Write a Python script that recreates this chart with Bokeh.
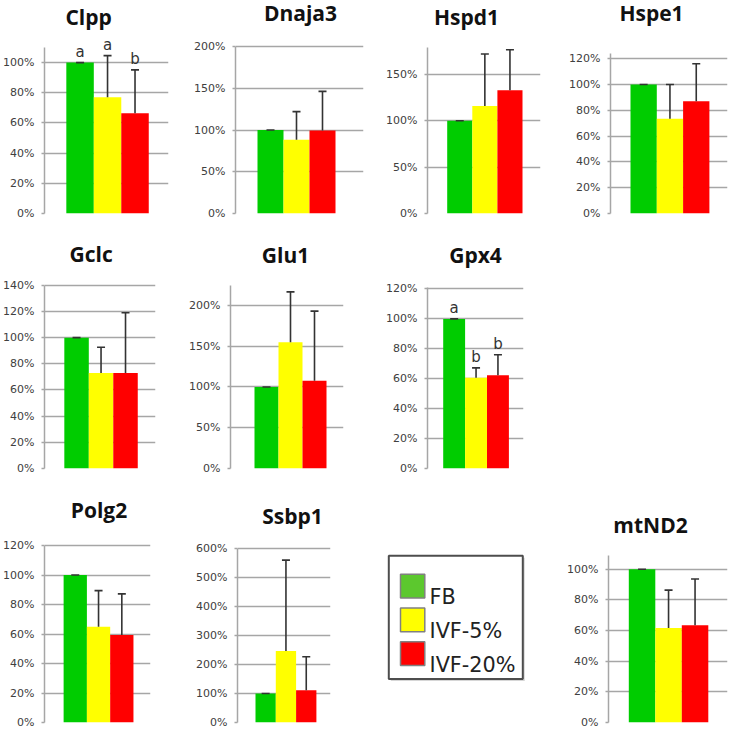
from bokeh.plotting import figure
from bokeh.layouts import row, column
from bokeh.models import (ColumnDataSource, Range1d, FixedTicker, PrintfTickFormatter,
                          Whisker, TeeHead, LabelSet, Label)
from bokeh.core.properties import value
from bokeh.embed import file_html
from bokeh.resources import INLINE

# ---------------- data ----------------
genes = ["Clpp", "Dnaja3", "Hspd1", "Hspe1", "Gclc", "Glu1", "Gpx4", "Polg2", "Ssbp1", "mtND2"]
groups = ["FB", "IVF-5%", "IVF-20%"]

fb_mean = [100, 100, 100, 100, 100, 100, 100, 100, 100, 100]
fb_err = [0, 0, 0, 0, 0, 0, 0, 0, 0, 0]
ivf5_mean = [77, 88.3, 116, 73.5, 72.9, 155, 60.7, 65, 247, 61.7]
ivf5_err = [27.6, 33.7, 56, 26.5, 19.8, 61.7, 6.6, 24.4, 313, 24.7]
ivf20_mean = [66.5, 99.4, 133, 87, 73, 107.7, 62.3, 59.3, 111, 63.5]
ivf20_err = [28.7, 46.9, 43.5, 29, 46, 85.3, 13.7, 27.9, 116, 30.2]

clpp_letters = ["a", "a", "b"]
gpx4_letters = ["a", "b", "b"]

y_max = [110, 200, 179, 124, 140, 225, 121, 120, 600, 109]
y_ticks = [
    [0, 20, 40, 60, 80, 100],
    [0, 50, 100, 150, 200],
    [0, 50, 100, 150],
    [0, 20, 40, 60, 80, 100, 120],
    [0, 20, 40, 60, 80, 100, 120, 140],
    [0, 50, 100, 150, 200],
    [0, 20, 40, 60, 80, 100, 120],
    [0, 20, 40, 60, 80, 100, 120],
    [0, 100, 200, 300, 400, 500, 600],
    [0, 20, 40, 60, 80, 100],
]

# ---------------- styles / layout (pixels) ----------------
bar_colors = ["#00cc00", "#ffff00", "#ff0000"]
legend_colors = ["#5cc82e", "#ffff00", "#ff0000"]
GRID = "#a6a6a6"
TITLE_DY = -6

ROWS = [(0, 236), (236, 482), (482, 734)]
GEOM = {
    "Clpp":   dict(row=0, fx=(0, 180),   fr=(43, 168),  fy=(47, 213),  bar=(65, 27.7),    title=(87.5, 22)),
    "Dnaja3": dict(row=0, fx=(180, 375), fr=(235, 363), fy=(46, 213),  bar=(257, 26),     title=(300, 18.5)),
    "Hspd1":  dict(row=0, fx=(375, 560), fr=(427, 540), fy=(47, 213),  bar=(446.7, 25.1), title=(466, 22.5)),
    "Hspe1":  dict(row=0, fx=(560, 730), fr=(610, 727), fy=(53, 213),  bar=(630, 26.3),   title=(651, 18.5)),
    "Gclc":   dict(row=1, fx=(0, 180),   fr=(43, 155),  fy=(285, 469), bar=(63, 24.7),    title=(90, 259.5)),
    "Glu1":   dict(row=1, fx=(180, 375), fr=(230, 343), fy=(285, 470), bar=(254, 24),     title=(285, 260.5)),
    "Gpx4":   dict(row=1, fx=(375, 730), fr=(427, 523), fy=(287, 468), bar=(442.7, 21.9), title=(475, 260)),
    "Polg2":  dict(row=2, fx=(0, 180),   fr=(43, 150),  fy=(545, 722), bar=(62.3, 23.5),  title=(98, 515)),
    "Ssbp1":  dict(row=2, fx=(180, 375), fr=(237, 330), fy=(550, 729), bar=(255, 20.3),   title=(292, 522)),
    "mtND2":  dict(row=2, fx=(550, 730), fr=(608, 727), fy=(555, 722), bar=(628.3, 26.5), title=(650, 530)),
}
LEG_FIG_X = (375, 550)
LEG = dict(box=(388.3, 559, 522.3, 688.3), sw_x=(400, 424.3), sw_top=578.3,
           sw_h=25, pitch=35.4, text_x=429)

letters_by_gene = {"Clpp": clpp_letters, "Gpx4": gpx4_letters}


def make_chart(i, gene):
    g = GEOM[gene]
    Y0, Y1 = ROWS[g["row"]]
    X0, X1 = g["fx"]
    FL, FR = g["fr"]
    FT, FB = g["fy"]
    u = g["bar"][1]
    x_start = -0.5 - (g["bar"][0] - FL) / u
    x_end = x_start + (FR - FL) / u
    y_end = y_max[i]
    ppy = (FB - FT) / y_end
    y_frame_end = y_end + (FT - Y0) / ppy   # frame reaches the top of the row

    p = figure(width=X1 - X0, height=Y1 - Y0, title=None,
               x_range=Range1d(x_start, x_end), y_range=Range1d(0, y_frame_end),
               toolbar_location=None, tools="", output_backend="svg",
               x_axis_location=None,
               min_border_left=FL - X0, min_border_right=X1 - FR,
               min_border_top=0, min_border_bottom=Y1 - FB)
    p.outline_line_color = None
    p.background_fill_color = "white"
    p.border_fill_color = "white"
    p.xgrid.visible = False

    ticker = FixedTicker(ticks=y_ticks[i])
    p.yaxis.ticker = ticker
    p.yaxis.bounds = (0, y_end)
    p.yaxis.formatter = PrintfTickFormatter(format="%d%%")
    p.yaxis.axis_line_color = GRID
    p.yaxis.axis_line_width = 1.5
    p.yaxis.major_tick_line_color = GRID
    p.yaxis.major_tick_line_width = 1.5
    p.yaxis.major_tick_out = 3
    p.yaxis.major_tick_in = 0
    p.yaxis.minor_tick_line_color = None
    p.yaxis.major_label_standoff = 7
    p.yaxis.major_label_text_font = "DejaVu Sans"
    p.yaxis.major_label_text_font_size = "11px"
    p.yaxis.major_label_text_color = "#404040"
    p.ygrid.ticker = ticker
    p.ygrid.grid_line_color = GRID
    p.ygrid.grid_line_width = 1.5

    means = [fb_mean[i], ivf5_mean[i], ivf20_mean[i]]
    errs = [fb_err[i], ivf5_err[i], ivf20_err[i]]
    src = ColumnDataSource(dict(
        x=[0, 1, 2],
        top=means,
        upper=[m + e for m, e in zip(means, errs)],
        color=bar_colors,
        group=groups,
    ))
    p.vbar(x="x", top="top", bottom=0, width=1, fill_color="color",
           line_color=None, source=src)

    wh = Whisker(base="x", lower="top", upper="upper", source=src,
                 dimension="height", line_color="#333333", line_width=1.6,
                 upper_head=TeeHead(size=8, line_color="#333333", line_width=1.6),
                 lower_head=None, level="annotation")
    p.add_layout(wh)

    if gene in letters_by_gene:
        lsrc = ColumnDataSource(dict(
            x=[0, 1, 2],
            y=[m + e for m, e in zip(means, errs)],
            text=letters_by_gene[gene],
        ))
        p.add_layout(LabelSet(x="x", y="y", text="text", source=lsrc,
                              text_align="center", text_baseline="bottom",
                              y_offset=2, text_font=value("DejaVu Sans"),
                              text_font_size="15px", text_color="#333333"))

    tx, ty = g["title"]
    ty = ty + TITLE_DY
    p.add_layout(Label(x=x_start + (tx - FL) / u,
                       y=y_end + (FT - ty) / ppy,
                       text=gene, text_align="center", text_baseline="alphabetic",
                       text_font="Open Sans", text_font_style="bold",
                       text_font_size="21px", text_color="#111111"))
    return p


def make_legend_fig():
    Y0, Y1 = ROWS[2]
    X0, X1 = LEG_FIG_X
    W, H = X1 - X0, Y1 - Y0
    lf = figure(width=W, height=H, title=None,
                x_range=Range1d(0, W), y_range=Range1d(0, H),
                toolbar_location=None, tools="", output_backend="svg",
                x_axis_location=None, y_axis_location=None, min_border=0)
    lf.outline_line_color = None
    lf.grid.visible = False

    def fx(v):
        return v - X0

    def fy(v):
        return H - (v - Y0)

    bl, bt, br, bb = LEG["box"]
    lf.quad(left=[fx(bl) + 2], right=[fx(br) + 2], top=[fy(bt) - 2], bottom=[fy(bb) - 2],
            fill_color="#bbbbbb", fill_alpha=0.6, line_color=None)
    lf.quad(left=[fx(bl)], right=[fx(br)], top=[fy(bt)], bottom=[fy(bb)],
            fill_color="white", line_color="#4d4d4d", line_width=2)

    tops = [LEG["sw_top"] + k * LEG["pitch"] for k in range(len(groups))]
    src = ColumnDataSource(dict(
        left=[fx(LEG["sw_x"][0])] * len(groups),
        right=[fx(LEG["sw_x"][1])] * len(groups),
        top=[fy(t) for t in tops],
        bottom=[fy(t + LEG["sw_h"]) for t in tops],
        color=legend_colors,
        tx=[fx(LEG["text_x"])] * len(groups),
        ty=[fy(t + LEG["sw_h"] - 1) for t in tops],
        label=groups,
    ))
    lf.quad(left="left", right="right", top="top", bottom="bottom", fill_color="color",
            line_color="#808080", line_width=1.5, source=src)
    lf.text(x="tx", y="ty", text="label", source=src, text_baseline="alphabetic",
            text_align="left", text_font=value("DejaVu Sans"), text_font_size="20.8px",
            text_color="#222222")
    return lf


charts = {gene: make_chart(i, gene) for i, gene in enumerate(genes)}
legend_fig = make_legend_fig()

layout = column(
    row(charts["Clpp"], charts["Dnaja3"], charts["Hspd1"], charts["Hspe1"]),
    row(charts["Gclc"], charts["Glu1"], charts["Gpx4"]),
    row(charts["Polg2"], charts["Ssbp1"], legend_fig, charts["mtND2"]),
)

open("out.html", "w").write(file_html(layout, INLINE))
